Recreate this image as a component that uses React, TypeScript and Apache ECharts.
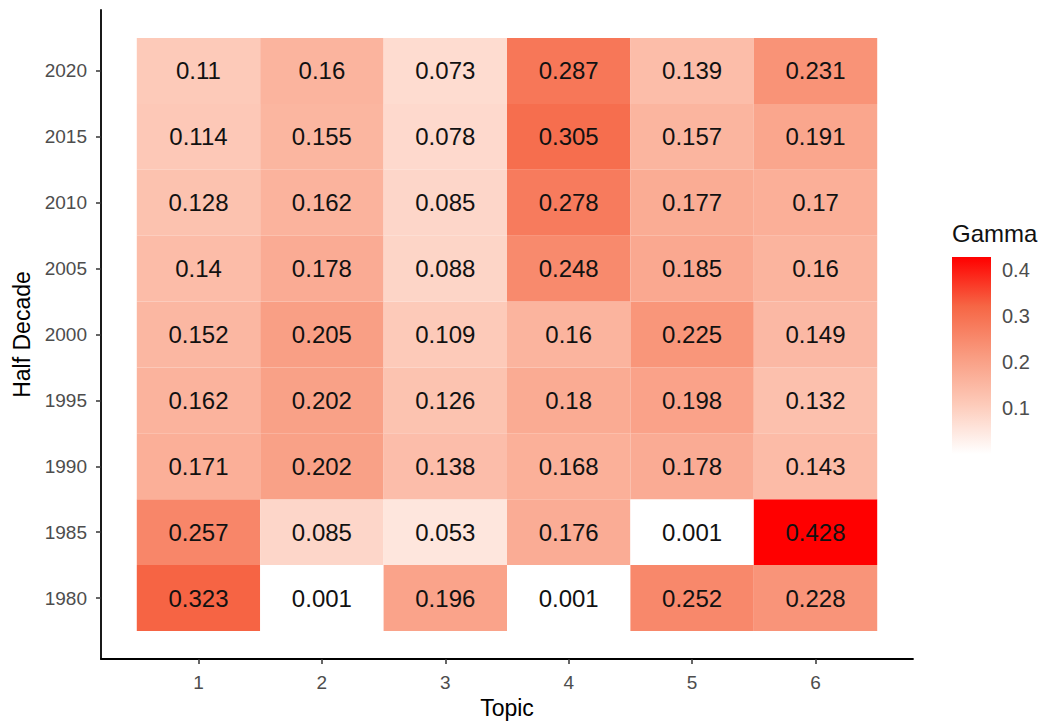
import React, { useEffect, useRef } from "react";
import * as echarts from "echarts";

const topics = [1, 2, 3, 4, 5, 6];
const years = ["1980", "1985", "1990", "1995", "2000", "2005", "2010", "2015", "2020"];
// gamma values per half decade (rows), topics 1..6 (columns)
const g1980 = [0.323, 0.001, 0.196, 0.001, 0.252, 0.228];
const g1985 = [0.257, 0.085, 0.053, 0.176, 0.001, 0.428];
const g1990 = [0.171, 0.202, 0.138, 0.168, 0.178, 0.143];
const g1995 = [0.162, 0.202, 0.126, 0.18, 0.198, 0.132];
const g2000 = [0.152, 0.205, 0.109, 0.16, 0.225, 0.149];
const g2005 = [0.14, 0.178, 0.088, 0.248, 0.185, 0.16];
const g2010 = [0.128, 0.162, 0.085, 0.278, 0.177, 0.17];
const g2015 = [0.114, 0.155, 0.078, 0.305, 0.157, 0.191];
const g2020 = [0.11, 0.16, 0.073, 0.287, 0.139, 0.231];
const gammaRows = [g1980, g1985, g1990, g1995, g2000, g2005, g2010, g2015, g2020];
const legendTicks = [0.1, 0.2, 0.3, 0.4];

const FONT = "'Liberation Sans', Arial, Helvetica, sans-serif";
// white -> red interpolated in Lab (ggplot style)
const gradColors = ["#FFFFFF", "#FDCBBA", "#F99B80", "#F66645", "#FF0000"];

export default function App() {
  const ref = useRef<HTMLDivElement>(null);
  useEffect(() => {
    if (!ref.current) return;
    const chart = echarts.init(ref.current, null, { renderer: "svg" });
    const data: number[][] = [];
    gammaRows.forEach((row, yi) => {
      row.forEach((v, xi) => data.push([topics[xi], yi + 1, v]));
    });
    const all = data.map((d) => d[2]);
    const vmin = Math.min(...all);
    const vmax = Math.max(...all);

    const barX = 952, barY = 257, barW = 39, barH = 197;
    const legendGraphics: any[] = [
      {
        type: "text",
        style: {
          text: "Gamma",
          x: barX,
          y: 233,
          verticalAlign: "middle",
          fontSize: 24,
          fontFamily: FONT,
          fill: "#111",
        },
      },
      {
        type: "rect",
        shape: { x: barX, y: barY, width: barW, height: barH },
        style: {
          fill: new echarts.graphic.LinearGradient(
            0, 1, 0, 0,
            gradColors.map((c, i) => ({ offset: i / (gradColors.length - 1), color: c }))
          ),
        },
      },
      ...legendTicks.map((t) => ({
        type: "text",
        style: {
          text: String(t),
          x: barX + barW + 11,
          y: barY + ((vmax - t) / (vmax - vmin)) * barH,
          verticalAlign: "middle",
          fontSize: 20,
          fontFamily: FONT,
          fill: "#4D4D4D",
        },
      })),
    ];

    chart.setOption({
      animation: false,
      backgroundColor: "#fff",
      grid: { left: 101, right: 135, top: 10, bottom: 67, containLabel: false },
      visualMap: {
        show: false,
        type: "continuous",
        min: vmin,
        max: vmax,
        dimension: 2,
        inRange: { color: gradColors },
      },
      xAxis: {
        type: "value",
        min: 0.21,
        max: 6.79,
        name: "Topic",
        nameLocation: "middle",
        nameGap: 35,
        nameTextStyle: { fontSize: 23, fontFamily: FONT, color: "#000" },
        splitLine: { show: false },
        axisLine: { show: true, onZero: false, lineStyle: { color: "#000", width: 1.8 } },
        axisTick: { show: true, length: 5, customValues: topics, lineStyle: { color: "#333", width: 1.5 } },
        axisLabel: {
          customValues: topics,
          margin: 14,
          fontSize: 19,
          fontFamily: FONT,
          color: "#4D4D4D",
          formatter: (v: number) => String(v),
        },
      },
      yAxis: {
        type: "value",
        min: 0.075,
        max: 9.925,
        name: "Half Decade",
        nameLocation: "middle",
        nameGap: 61,
        nameTextStyle: { fontSize: 23, fontFamily: FONT, color: "#000" },
        splitLine: { show: false },
        axisLine: { show: true, onZero: false, lineStyle: { color: "#000", width: 1.8 } },
        axisTick: {
          show: true,
          length: 5,
          customValues: years.map((_, i) => i + 1),
          lineStyle: { color: "#333", width: 1.5 },
        },
        axisLabel: {
          customValues: years.map((_, i) => i + 1),
          margin: 14,
          fontSize: 19,
          fontFamily: FONT,
          color: "#4D4D4D",
          formatter: (v: number) => years[Math.round(v) - 1] ?? "",
        },
      },
      series: [
        {
          type: "custom",
          data,
          encode: { x: 0, y: 1 },
          renderItem: (params: any, api: any) => {
            const x = api.value(0);
            const y = api.value(1);
            const v = api.value(2);
            const c = api.coord([x, y]);
            const s = api.size([1, 1]);
            return {
              type: "group",
              children: [
                {
                  type: "rect",
                  shape: { x: c[0] - s[0] / 2, y: c[1] - s[1] / 2, width: s[0], height: s[1] },
                  style: { fill: api.visual("color") },
                },
                {
                  type: "text",
                  style: {
                    text: String(v),
                    x: c[0],
                    y: c[1],
                    align: "center",
                    verticalAlign: "middle",
                    fontSize: 24,
                    fontFamily: FONT,
                    fill: "#111",
                  },
                },
              ],
            };
          },
        },
      ],
      graphic: legendGraphics,
    });
    return () => chart.dispose();
  }, []);
  return <div ref={ref} style={{ width: 1048, height: 726, position: "absolute", left: 0, top: 0 }} />;
}
